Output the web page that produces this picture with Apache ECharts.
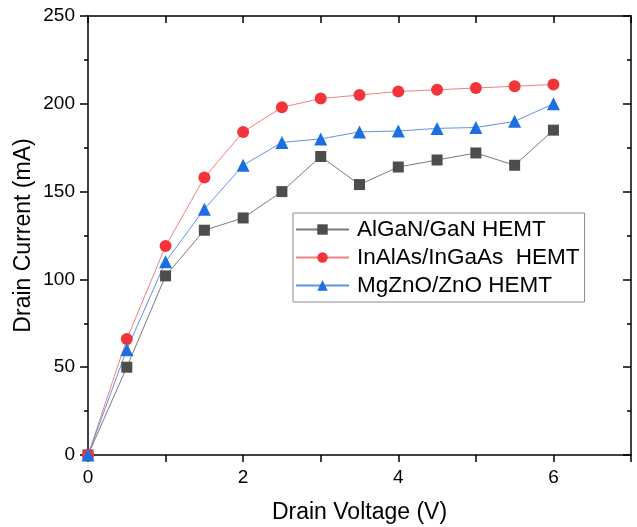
<!DOCTYPE html>
<html>
<head>
<meta charset="utf-8">
<script src="https://cdn.jsdelivr.net/npm/echarts@6/dist/echarts.min.js"></script>
<style>
  html, body { margin: 0; padding: 0; background: #fff; }
  #main { width: 637px; height: 527px; }
</style>
</head>
<body>
<div id="main"></div>
<script>
// drain voltage (V)
var voltage = [0, 0.5, 1, 1.5, 2, 2.5, 3, 3.5, 4, 4.5, 5, 5.5, 6]
// drain current (mA)
var algan = [0, 50, 102, 128, 135, 150, 170, 154, 164, 168, 172, 165, 185]
var inalas = [0, 66, 119, 158, 184, 198, 203, 205, 207, 208, 209, 210, 211]
var mgzno = [0, 60, 110, 140, 165, 178, 180, 184, 184.5, 186, 186.5, 190, 200]
var seriesNames = ['AlGaN/GaN HEMT', 'InAlAs/InGaAs  HEMT', 'MgZnO/ZnO HEMT']

function pairs (ys) {
  return voltage.map(function (x, i) { return [x, ys[i]] })
}

var font = 'Liberation Sans, Arial, sans-serif'
var axisLine = { show: true, onZero: false, lineStyle: { color: '#000', width: 1.5 } }
var tickStyle = { color: '#000', width: 1.5 }

var chart = echarts.init(document.getElementById('main'))
chart.setOption({
  animation: false,
  grid: { left: 88, right: 6, top: 16, bottom: 72, containLabel: false, outerBoundsMode: 'none' },
  legend: {
    orient: 'vertical',
    left: 293,
    top: 213,
    padding: [5, 5, 5, 2],
    borderColor: '#8c8c8c',
    borderWidth: 1,
    itemWidth: 53,
    itemHeight: 13,
    itemGap: 5,
    textStyle: { fontFamily: font, fontSize: 22.5, color: '#000', padding: [0, 0, 0, 3] },
    data: seriesNames
  },
  xAxis: [
    {
      type: 'value',
      position: 'bottom',
      min: 0,
      max: 7,
      interval: 1,
      name: 'Drain Voltage (V)',
      nameLocation: 'middle',
      nameGap: 46,
      nameMoveOverlap: false,
      nameTextStyle: { fontFamily: font, fontSize: 23, color: '#000' },
      axisLine: axisLine,
      axisTick: { show: true, length: 7, lineStyle: tickStyle },
      axisLabel: {
        fontFamily: font,
        fontSize: 19,
        color: '#000',
        margin: 13,
        formatter: function (v) { return v % 2 === 0 && v < 7 ? String(v) : '' }
      },
      splitLine: { show: false }
    },
    {
      type: 'value',
      position: 'top',
      min: 0,
      max: 7,
      interval: 1,
      axisLine: axisLine,
      axisTick: { show: true, inside: true, length: 7, lineStyle: tickStyle },
      axisLabel: { show: false },
      splitLine: { show: false }
    }
  ],
  yAxis: [
    {
      type: 'value',
      position: 'left',
      min: 0,
      max: 250,
      interval: 50,
      name: 'Drain Current (mA)',
      nameLocation: 'middle',
      nameGap: 53,
      nameMoveOverlap: false,
      nameTextStyle: { fontFamily: font, fontSize: 23, color: '#000' },
      axisLine: axisLine,
      axisTick: { show: true, length: 8, lineStyle: tickStyle },
      minorTick: { show: true, splitNumber: 2, length: 4, lineStyle: tickStyle },
      axisLabel: { fontFamily: font, fontSize: 19, color: '#000', margin: 13 },
      splitLine: { show: false },
      minorSplitLine: { show: false }
    },
    {
      type: 'value',
      position: 'right',
      min: 0,
      max: 250,
      interval: 50,
      axisLine: axisLine,
      axisTick: { show: true, inside: true, length: 8, lineStyle: tickStyle },
      minorTick: { show: true, splitNumber: 2, length: 4, lineStyle: tickStyle },
      axisLabel: { show: false },
      splitLine: { show: false },
      minorSplitLine: { show: false }
    }
  ],
  series: [
    {
      name: seriesNames[0],
      type: 'line',
      data: pairs(algan),
      symbol: 'rect',
      symbolSize: 11,
      itemStyle: { color: '#4d4d4d' },
      lineStyle: { color: '#7a7a7a', width: 1 }
    },
    {
      name: seriesNames[1],
      type: 'line',
      data: pairs(inalas),
      symbol: 'circle',
      symbolSize: 12,
      itemStyle: { color: '#f2353b' },
      lineStyle: { color: '#f07f82', width: 1 }
    },
    {
      name: seriesNames[2],
      type: 'line',
      data: pairs(mgzno),
      symbol: 'triangle',
      symbolSize: 13,
      itemStyle: { color: '#1c6fe0' },
      lineStyle: { color: '#5d93e6', width: 1 }
    }
  ]
})
</script>
</body>
</html>
